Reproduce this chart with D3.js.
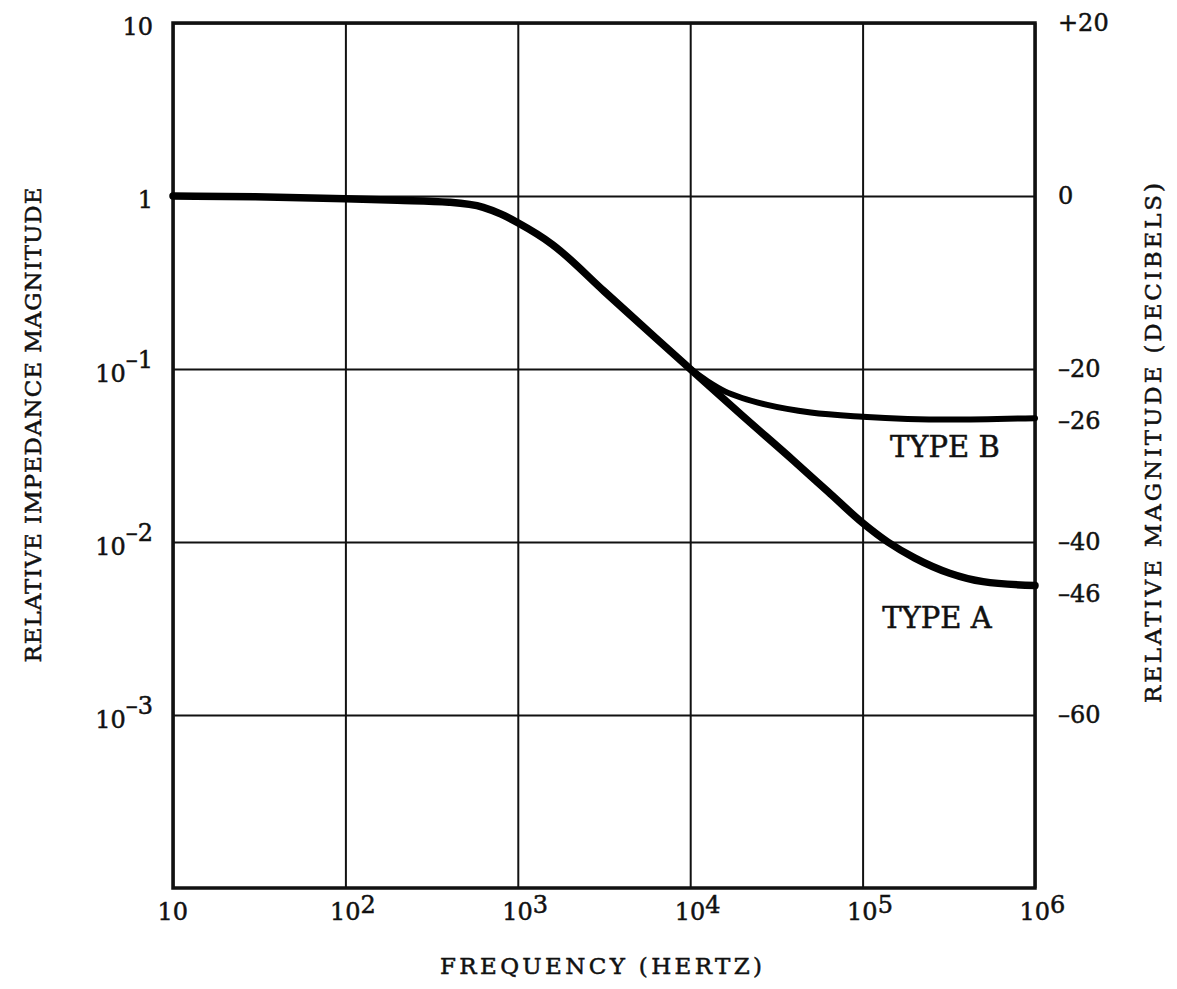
<!DOCTYPE html>
<html>
<head>
<meta charset="utf-8">
<script src="https://cdn.jsdelivr.net/npm/d3@7"></script>
<style>
    body { margin: 0; background: #fff; }
    text { font-family: "DejaVu Serif", serif; fill: #111; stroke: #111; stroke-width: 0.5px; }
</style>
</head>
<body>
<div id="chart"></div>
<script>
// values
const freqTicks = [10, 1e2, 1e3, 1e4, 1e5, 1e6];
const magTicks = [10, 1, 1e-1, 1e-2, 1e-3];
const dbTicks = [20, 0, -20, -26, -40, -46, -60];

const typeAFreq = [10, 30, 100, 200, 400, 630, 800, 1000, 1585, 3162, 6310, 10000, 19950, 39800, 63100, 100000, 140000, 200000, 320000, 500000, 1000000];
const typeAMag = [1.0, 0.99, 0.965, 0.945, 0.92, 0.86, 0.785, 0.70, 0.525, 0.282, 0.151, 0.10, 0.054, 0.0295, 0.0195, 0.0129, 0.0100, 0.0081, 0.0066, 0.0059, 0.0056];
const typeBFreq = [10000, 12600, 16000, 20000, 28000, 50000, 100000, 320000, 1000000];
const typeBMag = [0.10, 0.085, 0.074, 0.068, 0.062, 0.056, 0.053, 0.051, 0.052];

const W = 1177, H = 989;
let margin = {top: 23, right: 142, bottom: 101, left: 173},
    width = W - margin.left - margin.right,
    height = H - margin.top - margin.bottom;

let svg = d3.select("#chart").append("svg").attr("width", W).attr("height", H)
    .append("g").attr("transform", `translate(${margin.left},${margin.top})`);

let x = d3.scaleLog().domain([10, 1e6]).range([0, width]);
let y = d3.scaleLog().domain([1e-4, 10]).range([height, 0]);
let yDb = d3.scaleLinear().domain([-80, 20]).range([height, 0]);

const expText = (d) => {
    let e = Math.round(Math.log10(d));
    return e < 0 ? '\u2013' + (-e) : String(e);
};

// vertical grid + bottom labels
svg.append("g").attr("transform", `translate(0,${height})`)
    .call(d3.axisBottom(x).tickValues(freqTicks).tickSize(-height).tickFormat(""))
    .call(g => g.select(".domain").remove())
    .call(g => g.selectAll(".tick line").attr("stroke", "#111").attr("stroke-width", 2))
    .call(g => g.selectAll(".tick text").each(function (d) {
        let t = d3.select(this).attr("text-anchor", "start").attr("x", -16).attr("y", 32).attr("dy", 0)
            .style("font-size", "24px");
        t.append("tspan").text("10");
        if (d > 10) t.append("tspan").attr("dy", -7).text(expText(d));
    }));

// horizontal grid + left labels
svg.append("g")
    .call(d3.axisLeft(y).tickValues(magTicks).tickSize(-width).tickPadding(20).tickFormat(""))
    .call(g => g.select(".domain").remove())
    .call(g => g.selectAll(".tick line").attr("stroke", "#111").attr("stroke-width", 2))
    .call(g => g.selectAll(".tick text").each(function (d) {
        let t = d3.select(this).attr("dy", 0).attr("y", 11).style("font-size", "24px");
        if (d >= 1) {
            t.text(d3.format("d")(d));
        } else {
            t.attr("y", 12);
            t.append("tspan").text("10");
            t.append("tspan").attr("dy", -14).text(expText(d));
        }
    }));

// right decibel axis
svg.append("g").attr("transform", `translate(${width},0)`)
    .call(d3.axisRight(yDb).tickValues(dbTicks).tickSize(0).tickPadding(23)
        .tickFormat(d => d > 0 ? '+' + d : d < 0 ? '\u2013' + (-d) : '0'))
    .call(g => g.select(".domain").remove())
    .call(g => g.selectAll(".tick text").style("font-size", "24px").attr("fill", "#111"));

// frame
svg.append("rect").attr("width", width).attr("height", height)
    .attr("fill", "none").attr("stroke", "#111").attr("stroke-width", 3.5);

let line = d3.line().x(d => x(d[0])).y(d => y(d[1])).curve(d3.curveMonotoneX);

svg.append("path").datum(d3.zip(typeAFreq, typeAMag)).attr("d", line)
    .attr("fill", "none").attr("stroke", "#000").attr("stroke-width", 7.5).attr("stroke-linecap", "round");
svg.append("path").datum(d3.zip(typeBFreq, typeBMag)).attr("d", line)
    .attr("fill", "none").attr("stroke", "#000").attr("stroke-width", 6).attr("stroke-linecap", "round");

// curve labels
svg.append("text").attr("x", x(3e5)).attr("y", y(0.031)).attr("text-anchor", "middle")
    .style("font-size", "29px").text("TYPE B");
svg.append("text").attr("x", x(2.7e5)).attr("y", y(0.0032)).attr("text-anchor", "middle")
    .style("font-size", "29px").text("TYPE A");

// axis titles
svg.append("text").attr("x", 601 - margin.left).attr("y", height + 86).attr("text-anchor", "middle")
    .attr("textLength", 322).attr("lengthAdjust", "spacing")
    .style("font-size", "23px").text("FREQUENCY (HERTZ)");
svg.append("text").attr("transform", `translate(${41 - margin.left},${425 - margin.top}) rotate(-90)`)
    .attr("text-anchor", "middle").attr("textLength", 475).attr("lengthAdjust", "spacing")
    .style("font-size", "23px").text("RELATIVE IMPEDANCE MAGNITUDE");
svg.append("text").attr("transform", `translate(${1161 - margin.left},${443 - margin.top}) rotate(-90)`)
    .attr("text-anchor", "middle").attr("textLength", 520).attr("lengthAdjust", "spacing")
    .style("font-size", "23px").text("RELATIVE MAGNITUDE (DECIBELS)");
</script>
</body>
</html>
